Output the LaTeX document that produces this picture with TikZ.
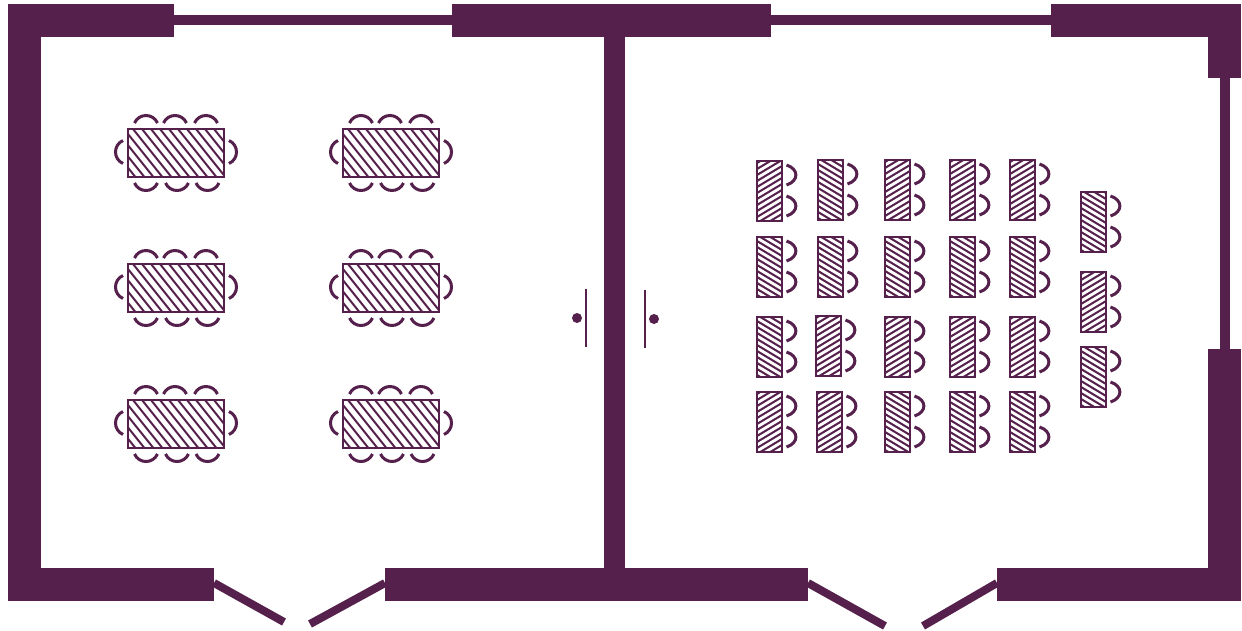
\documentclass[tikz,border=0pt]{standalone}
\usepackage{tikz}
\definecolor{wallplum}{HTML}{55204C}
\tikzset{
    wall/.style={fill=wallplum, draw=none},
    doorleaf/.style={draw=wallplum, line width=8pt},
    doorswing/.style={draw=wallplum, line width=1.6pt},
    knob/.style={fill=wallplum, draw=none},
    tabletop/.style={draw=wallplum, line width=2pt},
    hatchline/.style={draw=wallplum, line width=2pt},
    seat/.style={draw=wallplum, line width=3pt}
}
% meeting table with six chairs around it, x y = top left corner
\newcommand{\meetchair}[3]{\draw[seat, shift={(#1,#2)}, rotate=#3] (-11.5,0) .. controls (-7,-10) and (7,-10) .. (11.5,0);}
\newcommand{\deskchair}[2]{\draw[seat, shift={(#1,#2)}, rotate=-90] (-10,0) .. controls (-6,-12.5) and (6,-12.5) .. (10,0);}
\newcommand{\meettable}[2]{
    \begin{scope}
        \clip (#1,#2) rectangle ++(96,48);
        \foreach \t in {-40,-31,...,100}
            \draw[hatchline] (#1+\t,#2) -- ++(38.4,48);
    \end{scope}
    \draw[tabletop] (#1,#2) rectangle ++(96,48);
    \meetchair{#1+18}{#2-6}{0}
    \meetchair{#1+47}{#2-6}{0}
    \meetchair{#1+78}{#2-6}{0}
    \meetchair{#1+18}{#2+54}{180}
    \meetchair{#1+49}{#2+54}{180}
    \meetchair{#1+79.5}{#2+54}{180}
    \meetchair{#1-5}{#2+23}{90}
    \meetchair{#1+101}{#2+23}{-90}
}
% desk with two chairs, third argument: 1 falling hatch, -1 rising hatch
\newcommand{\desk}[3]{
    \begin{scope}
        \clip (#1,#2) rectangle ++(24.5,60);
        \ifnum#3=1
            \foreach \t in {-20,-14,...,64}
                \draw[hatchline] (#1,#2+\t) -- ++(24.5,14.7);
        \else
            \foreach \t in {-4,2,...,80}
                \draw[hatchline] (#1,#2+\t) -- ++(24.5,-14.7);
        \fi
    \end{scope}
    \draw[tabletop] (#1,#2) rectangle ++(24.5,60);
    \deskchair{#1+29.5}{#2+14}
    \deskchair{#1+29.5}{#2+45}
}
\begin{document}
\begin{tikzpicture}[x=1pt, y=-1pt]
    \useasboundingbox[fill=white] (0,0) rectangle (1242,630);

    % walls
    \fill[wall] (8,4) rectangle (174,37);
    \fill[wall] (174,15) rectangle (452,25);
    \fill[wall] (452,4) rectangle (771,37);
    \fill[wall] (771,15) rectangle (1051,25);
    \fill[wall] (1051,4) rectangle (1241,37);
    \fill[wall] (1208,37) rectangle (1241,78);
    \fill[wall] (1220,78) rectangle (1230,349);
    \fill[wall] (1208,349) rectangle (1241,568);
    \fill[wall] (8,37) rectangle (41,568);
    \fill[wall] (604,37) rectangle (625,568);
    \fill[wall] (8,568) rectangle (214,601);
    \fill[wall] (385,568) rectangle (808,601);
    \fill[wall] (997,568) rectangle (1241,601);

    % doors
    \draw[doorleaf] (214,583) -- (284,622);
    \draw[doorleaf] (385,583) -- (310,624);
    \draw[doorleaf] (808,583) -- (885,626);
    \draw[doorleaf] (997,583) -- (923,626);

    \draw[doorswing] (586,289) -- (586,347);
    \draw[doorswing] (645,290) -- (645,348);
    \fill[knob] (577,318) circle (5);
    \fill[knob] (654,319) circle (5);

    % left room
    \foreach \x in {128,343}
        \foreach \y in {129,264,400} {
            \meettable{\x}{\y}
        }

    % right room
    \foreach \x/\y/\d in {757/161/-1, 818/160/1, 885/160/-1, 950/160/-1, 1010/160/-1,
                          757/237/1, 818/237/1, 885/237/1, 950/237/1, 1010/237/1,
                          757/317/1, 816/316/-1, 885/317/-1, 950/317/-1, 1010/317/-1,
                          757/392/-1, 817/392/-1, 885/392/1, 950/392/1, 1010/392/1,
                          1081/192/1, 1081/272/-1, 1081/347/1} {
        \desk{\x}{\y}{\d}
    }
\end{tikzpicture}
\end{document}
